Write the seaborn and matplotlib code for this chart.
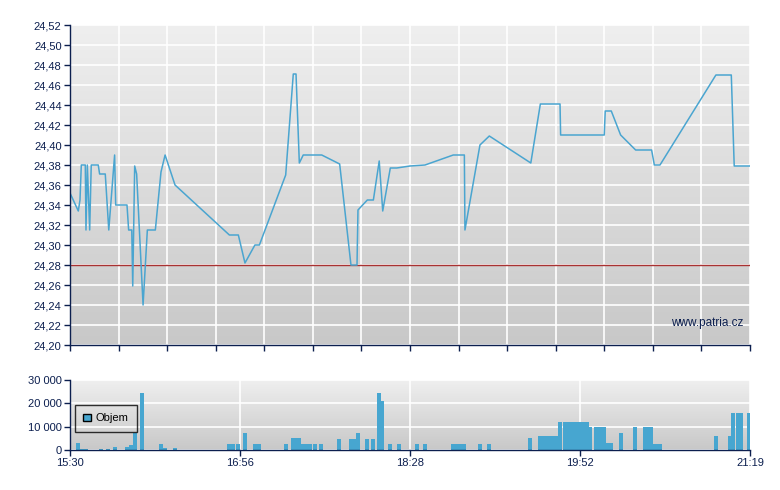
import numpy as np
import pandas as pd
import matplotlib
matplotlib.use("Agg")
import matplotlib.pyplot as plt
from matplotlib.colors import LinearSegmentedColormap
from matplotlib.patches import Patch
import seaborn as sns

# ---- data (minutes after 15:30 on the chart's axis) ----
price_t = [0, 4.26, 5.13, 5.8, 7.85, 8.2, 8.9, 10.1, 10.9, 14.5, 15.2, 18.1, 19.9, 22.9, 23.45,
           29.25, 30.1, 31.7, 32.2, 33.2, 34.2, 37.5, 39.7, 43.8, 46.7, 48.8, 53.9, 81.8, 86.4,
           89.8, 94.9, 97.2, 110.7, 114.6, 116.0, 117.7, 119.7, 129.2, 138.4, 144.2, 147.3, 147.8,
           152.6, 155.7, 158.7, 160.5, 164.4, 167.7, 174.5, 182.2, 196.7, 202.4, 202.7, 210.4,
           215.2, 236.5, 241.4, 251.5, 251.8, 274.2, 274.7, 277.8, 282.6, 290.3, 298.5, 299.9,
           302.8, 331.5, 339.4, 340.9, 349]
price_v = [24.352, 24.334, 24.345, 24.38, 24.38, 24.315, 24.38, 24.315, 24.38, 24.38, 24.371,
           24.371, 24.315, 24.39, 24.34, 24.34, 24.315, 24.315, 24.259, 24.379, 24.371, 24.24,
           24.315, 24.315, 24.373, 24.39, 24.36, 24.31, 24.31, 24.282, 24.30, 24.30, 24.37,
           24.471, 24.471, 24.382, 24.39, 24.39, 24.381, 24.28, 24.28, 24.335, 24.345, 24.345,
           24.384, 24.334, 24.377, 24.377, 24.379, 24.38, 24.39, 24.39, 24.315, 24.40, 24.409,
           24.382, 24.441, 24.441, 24.41, 24.41, 24.434, 24.434, 24.41, 24.395, 24.395, 24.38,
           24.38, 24.47, 24.47, 24.379, 24.379]

vol_t = [4.1, 6.2, 8.2, 15.9, 19.5, 23.1, 29.3, 31.3, 33.4, 37.0, 46.7, 48.8, 53.9, 81.6, 83.7,
         86.2, 89.8, 94.9, 97.0, 110.9, 114.5, 116.5, 117.6, 119.6, 121.1, 123.2, 125.7, 128.8,
         138.1, 144.2, 146.3, 147.8, 152.4, 155.5, 158.6, 160.4, 164.2, 168.9, 178.1, 182.2,
         196.6, 198.6, 200.7, 202.2, 210.4, 215.0, 236.1, 241.2, 243.3, 245.3, 247.4, 249.4,
         251.5, 254.0, 256.1, 258.2, 260.2, 262.3, 264.3, 265.4, 267.1, 270.0, 272.0, 274.1,
         276.1, 277.7, 282.8, 290.0, 295.1, 297.2, 298.2, 300.2, 302.2, 302.8, 331.5, 338.5,
         340.1, 342.6, 344.2, 348.5]
vol_v = [3000, 500, 500, 500, 500, 1300, 1300, 2100, 7300, 24400, 2600, 900, 900, 2600, 2600,
         2600, 7300, 2600, 2600, 2600, 5100, 5100, 5100, 2600, 2600, 2600, 2600, 2600,
         4700, 4700, 4700, 7300, 4700, 4700, 24400, 21000, 2600, 2600, 2600, 2600,
         2600, 2600, 2600, 2600, 2600, 2600, 5100, 6000, 6000, 6000, 6000, 6000,
         12000, 12000, 12000, 12000, 12000, 12000, 12000, 12000, 9900, 9900, 9900, 9900,
         3000, 3000, 7300, 9900, 9900, 9900, 9900, 2600, 2600, 2600, 6000, 6000,
         16000, 16000, 16000, 16000]

time_labels = ["15:30", "16:56", "18:28", "19:52", "21:19"]
reference_price = 24.28
x_end = 349

# ---- style ----
NAVY = "#0c1f4f"
BLUE = "#47a6d0"
plt.rcParams["font.family"] = ["Liberation Sans", "DejaVu Sans"]
plt.rcParams["font.size"] = 8

fig = plt.figure(figsize=(7.8, 4.9), dpi=100)
W, H = 780, 490
ax = fig.add_axes([70 / W, 1 - 345 / H, 680 / W, 320 / H])
axv = fig.add_axes([70 / W, 1 - 450 / H, 680 / W, 70 / H])

grad = LinearSegmentedColormap.from_list("g", ["#efefef", "#c8c8c8"])
for a in (ax, axv):
    a.imshow(np.linspace(0, 1, 256).reshape(-1, 1), cmap=grad, extent=[0, 1, 0, 1],
             transform=a.transAxes, aspect="auto", zorder=0, interpolation="bilinear")
    a.set_axisbelow(True)
    for s in ("top", "right"):
        a.spines[s].set_visible(False)
    for s in ("left", "bottom"):
        a.spines[s].set_color(NAVY)
        a.spines[s].set_linewidth(1)
        a.spines[s].set_zorder(5)
    a.tick_params(colors=NAVY, labelcolor=NAVY, length=4, width=1, direction="out", labelsize=8, pad=2)
    a.grid(True, color="white", lw=1.2, zorder=0.5)

# ---- price ----
dfp = pd.DataFrame({"t": price_t, "p": price_v})
ax.axhline(reference_price, color="#a83232", lw=1, zorder=1.5)
sns.lineplot(data=dfp, x="t", y="p", ax=ax, color="#4aa5d0", lw=1.1, sort=False,
             estimator=None, zorder=3)
ax.set_xlim(0, x_end)
ax.set_ylim(24.20, 24.52)
yt = np.round(np.arange(24.20, 24.5201, 0.02), 2)
ax.set_yticks(yt)
ax.set_yticklabels([f"{v:.2f}".replace(".", ",") for v in yt])
ax.set_xticks(np.linspace(0, x_end, 15))
ax.set_xticklabels([])
ax.set_xlabel("")
ax.set_ylabel("")
ax.text(0.99, 0.069, "www.patria.cz", transform=ax.transAxes, ha="right", va="center",
        color=NAVY, fontsize=8.5, zorder=4)

# ---- volume ----
axv.bar(vol_t, vol_v, width=2.0, color=BLUE, linewidth=0, zorder=3)
axv.set_xlim(0, x_end)
axv.set_ylim(0, 30000)
axv.set_yticks([0, 10000, 20000, 30000])
axv.set_yticklabels(["0", "10 000", "20 000", "30 000"])
axv.set_xticks(np.linspace(0, x_end, 5))
axv.set_xticklabels(time_labels)
leg = axv.legend(handles=[Patch(facecolor=BLUE, edgecolor="black", lw=1, label="Objem")],
                 loc="upper left", bbox_to_anchor=(5 / 680, 45 / 70), borderaxespad=0,
                 fontsize=8, frameon=True, fancybox=False, borderpad=0.75,
                 handlelength=0.7, handleheight=0.7, handletextpad=0.4)
leg.get_frame().set_edgecolor("black")
leg.get_frame().set_facecolor("none")
leg.get_frame().set_linewidth(1)
leg.set_zorder(6)

fig.savefig("out.png", dpi=100)
